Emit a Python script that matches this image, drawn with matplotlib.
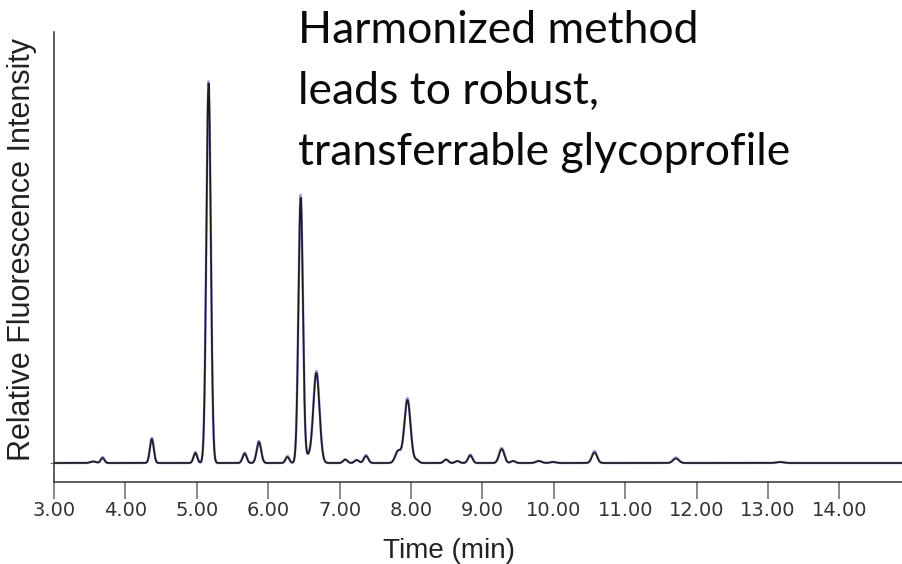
import numpy as np
import matplotlib
matplotlib.use('Agg')
import matplotlib.pyplot as plt

# peak table: retention time (min), height, width (sigma, min)
peak_time = [3.55, 3.68, 4.37, 4.98, 5.165, 5.67, 5.87, 6.27, 6.455, 6.56, 6.675,
             7.08, 7.24, 7.37, 7.82, 7.95, 8.08, 8.49, 8.65, 8.83, 9.27, 9.43,
             9.79, 9.99, 10.57, 11.71, 13.17]
peak_height = [1.5, 5, 24, 10, 380, 9.5, 21, 6, 265, 6, 90,
               3.5, 3, 7, 12, 63, 3, 3.5, 2, 7.5, 14, 2,
               2, 1, 10.5, 4.5, 1]
peak_width = [0.04, 0.025, 0.027, 0.026, 0.031, 0.028, 0.031, 0.026, 0.031, 0.04, 0.043,
              0.03, 0.03, 0.03, 0.04, 0.043, 0.03, 0.03, 0.03, 0.03, 0.036, 0.03,
              0.04, 0.04, 0.036, 0.04, 0.05]
# second (overlaid) run, blue, slightly taller at the tops
peak_height_run2 = [1.5, 6, 25, 11, 382, 10.5, 22, 7, 268, 6, 92,
                    3.5, 3, 8, 12, 65, 3, 3.5, 2, 8.5, 15, 2,
                    2, 1, 12, 5.5, 1]

xticks = [3, 4, 5, 6, 7, 8, 9, 10, 11, 12, 13, 14]
note_lines = ['Harmonized method', 'leads to robust,', 'transferrable glycoprofile']

t = np.linspace(3.0, 14.9, 4000)


def trace(heights):
    y = np.zeros_like(t)
    for c, h, s in zip(peak_time, heights, peak_width):
        y += h * np.exp(-0.5 * ((t - c) / s) ** 2)
    return y


fig = plt.figure(figsize=(9.02, 5.64), dpi=100)
ax = fig.add_axes([54 / 902, 1 - 482 / 564, 1 - 54 / 902, 450 / 564])

ax.plot(t, trace(peak_height_run2), color='#6464d8', lw=1.8, alpha=0.6)
ax.plot(t, trace(peak_height), color='#1c1c1c', lw=1.25)

ax.set_xlim(3.0, 3 + 848 / 71.4)
ax.set_ylim(-19, 431)
ax.set_xticks(xticks)
ax.set_xticklabels(['%.2f' % v for v in xticks])
ax.set_yticks([0])
ax.set_yticklabels([])
ax.tick_params(axis='x', direction='out', length=12, width=1.1, color='#6a6a6a',
               labelsize=14, labelcolor='#333333', pad=2)
ax.tick_params(axis='y', direction='out', length=3, width=0.8, color='#6a6a6a')

for side in ['top', 'right']:
    ax.spines[side].set_visible(False)
for side in ['left', 'bottom']:
    ax.spines[side].set_color('#333333')
    ax.spines[side].set_linewidth(1.1)

fig.text(22 / 902, 1 - 250 / 564, 'Relative Fluorescence Intensity', rotation=90,
         ha='center', va='center', fontsize=22, family='Liberation Sans', color='#222222')
fig.text(449 / 902, 1 - 558 / 564, 'Time (min)', ha='center', va='baseline',
         fontsize=20, family='Liberation Sans', color='#222222')

for line, base in zip(note_lines, [43, 104, 165]):
    fig.text(298 / 902, 1 - base / 564, line, ha='left', va='baseline',
             fontsize=32, family='Lato', color='#0a0a0a')

fig.savefig('out.png', dpi=100)
